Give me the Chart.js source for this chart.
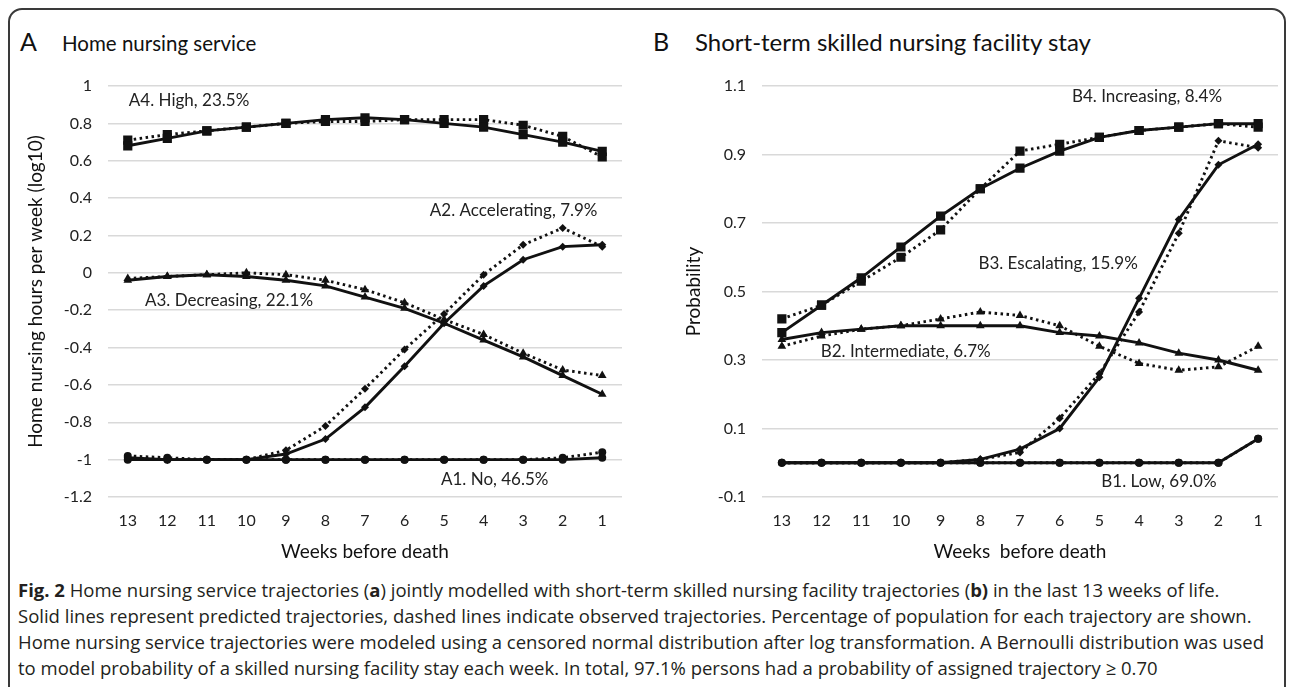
<!DOCTYPE html>
<html>
<head>
<meta charset="utf-8">
<script src="https://cdn.jsdelivr.net/npm/chart.js@4.4.1/dist/chart.umd.min.js"></script>
<style>
  html, body { margin: 0; padding: 0; background: #fff; }
  body { width: 1290px; height: 687px; position: relative; overflow: hidden; font-family: Lato, sans-serif; }
  .frame { position: absolute; left: 8px; top: 8px; width: 1274px; height: 690px; border: 2px solid #3a3a3a; border-radius: 14px; }
  .panel-title { position: absolute; top: 26px; color: #111; white-space: nowrap; }
  .panel-title b { font-weight: normal; font-size: 25px; display: inline-block; width: 42px; }
  .wrap { position: absolute; top: 0; }
  .caption { position: absolute; left: 18px; top: 577px; font-family: "Open Sans", sans-serif; font-size: 18.5px; color: #231f20; line-height: 26px; }
  .caption div { white-space: nowrap; }
</style>
</head>
<body>
<div class="frame"></div>
<div class="panel-title" style="left:20px; font-size:20.5px"><b>A</b>Home nursing service</div>
<div class="panel-title" style="left:653px; font-size:24px"><b>B</b>Short-term skilled nursing facility stay</div>
<div class="wrap" style="left:8px"><canvas id="chartA" width="630" height="577"></canvas></div>
<div class="wrap" style="left:640px"><canvas id="chartB" width="648" height="577"></canvas></div>
<div class="caption">
  <div><b>Fig. 2</b> Home nursing service trajectories (<b>a</b>) jointly modelled with short-term skilled nursing facility trajectories (<b>b)</b> in the last 13 weeks of life.</div>
  <div>Solid lines represent predicted trajectories, dashed lines indicate observed trajectories. Percentage of population for each trajectory are shown.</div>
  <div>Home nursing service trajectories were modeled using a censored normal distribution after log transformation. A Bernoulli distribution was used</div>
  <div>to model probability of a skilled nursing facility stay each week. In total, 97.1% persons had a probability of assigned trajectory ≥ 0.70</div>
</div>
<script>
// weeks before death (x categories)
const weeks = ['13', '12', '11', '10', '9', '8', '7', '6', '5', '4', '3', '2', '1'];

// Panel A: home nursing hours per week (log10), predicted and observed
const a4Pred = [0.68, 0.72, 0.76, 0.78, 0.80, 0.82, 0.83, 0.82, 0.80, 0.78, 0.74, 0.70, 0.65];
const a4Obs  = [0.71, 0.74, 0.76, 0.78, 0.80, 0.81, 0.81, 0.82, 0.82, 0.82, 0.79, 0.73, 0.62];
const a3Pred = [-0.04, -0.02, -0.01, -0.02, -0.04, -0.07, -0.13, -0.19, -0.27, -0.36, -0.45, -0.55, -0.65];
const a3Obs  = [-0.03, -0.02, -0.01, 0.00, -0.01, -0.04, -0.09, -0.16, -0.25, -0.33, -0.43, -0.52, -0.55];
const a2Pred = [-0.99, -1.00, -1.00, -1.00, -0.97, -0.89, -0.72, -0.50, -0.27, -0.07, 0.07, 0.14, 0.15];
const a2Obs  = [-0.99, -1.00, -1.00, -1.00, -0.95, -0.82, -0.62, -0.41, -0.22, -0.01, 0.15, 0.24, 0.14];
const a1Pred = [-1.00, -1.00, -1.00, -1.00, -1.00, -1.00, -1.00, -1.00, -1.00, -1.00, -1.00, -1.00, -0.99];
const a1Obs  = [-0.98, -0.99, -1.00, -1.00, -1.00, -1.00, -1.00, -1.00, -1.00, -1.00, -1.00, -0.99, -0.96];

// Panel B: probability of a skilled nursing facility stay
const b4Pred = [0.38, 0.46, 0.54, 0.63, 0.72, 0.80, 0.86, 0.91, 0.95, 0.97, 0.98, 0.99, 0.99];
const b4Obs  = [0.42, 0.46, 0.53, 0.60, 0.68, 0.80, 0.91, 0.93, 0.95, 0.97, 0.98, 0.99, 0.98];
const b3Pred = [0.00, 0.00, 0.00, 0.00, 0.00, 0.01, 0.04, 0.10, 0.25, 0.48, 0.71, 0.87, 0.93];
const b3Obs  = [0.00, 0.00, 0.00, 0.00, 0.00, 0.01, 0.03, 0.13, 0.26, 0.44, 0.67, 0.94, 0.92];
const b2Pred = [0.36, 0.38, 0.39, 0.40, 0.40, 0.40, 0.40, 0.38, 0.37, 0.35, 0.32, 0.30, 0.27];
const b2Obs  = [0.34, 0.37, 0.39, 0.40, 0.42, 0.44, 0.43, 0.40, 0.34, 0.29, 0.27, 0.28, 0.34];
const b1Pred = [0, 0, 0, 0, 0, 0, 0, 0, 0, 0, 0, 0, 0.07];
const b1Obs  = [0, 0, 0, 0, 0, 0, 0, 0, 0, 0, 0, 0, 0.07];

// trajectory labels: [text, x (category index), y (value)]
const labelsA = [
  ['A4. High, 23.5%', 1.55, 0.92],
  ['A2. Accelerating, 7.9%', 9.76, 0.335],
  ['A3. Decreasing, 22.1%', 2.56, -0.148],
  ['A1. No, 46.5%', 9.28, -1.106]
];
const labelsB = [
  ['B4. Increasing, 8.4%', 9.2, 1.069],
  ['B3. Escalating, 15.9%', 6.96, 0.583],
  ['B2. Intermediate, 6.7%', 3.12, 0.325],
  ['B1. Low, 69.0%', 9.5, -0.056]
];

const ink = '#111';
const fontFamily = 'Lato, sans-serif';

function series(data, shape, radius, observed) {
  return {
    data: data,
    borderColor: ink,
    backgroundColor: ink,
    borderWidth: 2.9,
    borderDash: observed ? [2.5, 3.5] : [],
    pointStyle: shape,
    pointRadius: radius,
    pointBorderWidth: 0,
    tension: 0
  };
}

const trajectoryLabels = {
  id: 'trajectoryLabels',
  afterDatasetsDraw(chart, args, opts) {
    const { ctx, scales } = chart;
    ctx.save();
    ctx.fillStyle = '#222';
    ctx.font = '17px ' + fontFamily;
    ctx.textAlign = 'center';
    ctx.textBaseline = 'middle';
    opts.items.forEach(([text, xi, yv]) => {
      const i = Math.floor(xi);
      const x0 = scales.x.getPixelForValue(i);
      const x1 = scales.x.getPixelForValue(i + 1);
      ctx.fillText(text, x0 + (x1 - x0) * (xi - i), scales.y.getPixelForValue(yv));
    });
    ctx.restore();
  }
};

function makeChart(id, datasets, yMin, yMax, yTitle, xTitle, items, yWidth, titlePad, rightPad) {
  return new Chart(document.getElementById(id), {
    type: 'line',
    data: { labels: weeks, datasets: datasets },
    plugins: [trajectoryLabels],
    options: {
      responsive: false,
      animation: false,
      layout: { padding: { top: 86, right: rightPad, bottom: 10, left: 0 } },
      plugins: {
        legend: { display: false },
        tooltip: { enabled: false },
        trajectoryLabels: { items: items }
      },
      scales: {
        x: {
          offset: true,
          grid: { display: false, drawTicks: false },
          border: { display: false },
          ticks: { color: '#222', font: { family: fontFamily, size: 16 }, padding: 14 },
          title: { display: true, text: xTitle, color: '#111', font: { family: fontFamily, size: 19 }, padding: { top: 0, bottom: 4 } },
          afterFit: s => { s.height = 70; }
        },
        y: {
          min: yMin,
          max: yMax,
          grid: { color: '#d9d9d9', lineWidth: 1.5, drawTicks: false },
          border: { display: false },
          ticks: {
            stepSize: 0.2,
            color: '#222',
            padding: 16,
            font: { family: fontFamily, size: 16 },
            callback: v => parseFloat(v.toFixed(1)).toString()
          },
          title: { display: true, text: yTitle, color: '#111', font: { family: fontFamily, size: 19 }, padding: { top: titlePad, bottom: 0 } },
          afterFit: s => { s.width = yWidth; }
        }
      }
    }
  });
}

makeChart('chartA', [
  series(a4Pred, 'rect', 6.5, false), series(a4Obs, 'rect', 6.5, true),
  series(a3Pred, 'triangle', 5, false), series(a3Obs, 'triangle', 5, true),
  series(a2Pred, 'rectRot', 4, false), series(a2Obs, 'rectRot', 4, true),
  series(a1Pred, 'circle', 4, false), series(a1Obs, 'circle', 4, true)
], -1.2, 1, 'Home nursing hours per week (log10)', 'Weeks before death', labelsA, 100, 16, 16);

makeChart('chartB', [
  series(b4Pred, 'rect', 6.5, false), series(b4Obs, 'rect', 6.5, true),
  series(b3Pred, 'rectRot', 4, false), series(b3Obs, 'rectRot', 4, true),
  series(b2Pred, 'triangle', 5, false), series(b2Obs, 'triangle', 5, true),
  series(b1Pred, 'circle', 4, false), series(b1Obs, 'circle', 4, true)
], -0.1, 1.1, 'Probability', 'Weeks  before death', labelsB, 122, 42, 10);
</script>
</body>
</html>
